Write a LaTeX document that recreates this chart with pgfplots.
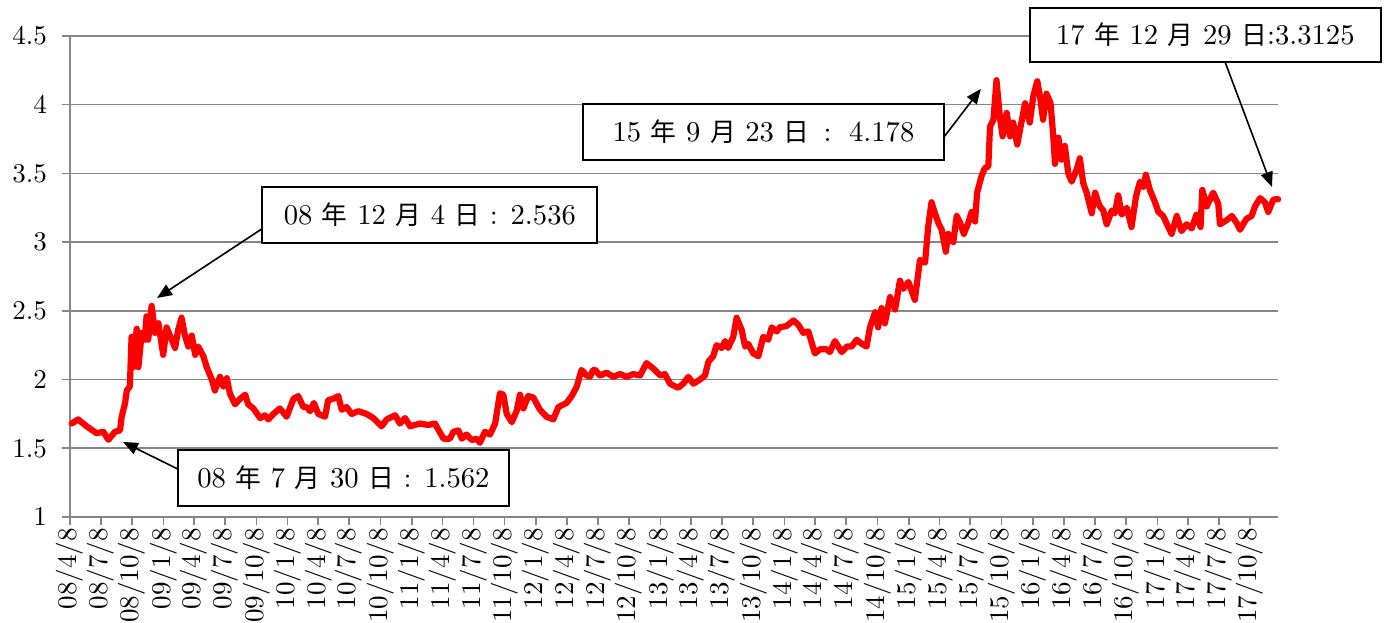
\documentclass[border=0pt]{standalone}
\usepackage{fontspec}
\usepackage{pgfplots}
\pgfplotsset{compat=1.18}
\usetikzlibrary{arrows.meta}
\newfontfamily\cjk[Scale=0.9]{Noto Sans CJK JP}
\newcommand{\J}[1]{{\cjk #1}}
\definecolor{gridgray}{RGB}{134,134,134}
\begin{document}
\begin{tikzpicture}
\begin{axis}[
  scale only axis,
  width=447pt, height=178pt,
  xmin=0, xmax=3552, ymin=1, ymax=4.5,
  clip=false,
  axis x line*=bottom, axis y line*=left,
  axis line style={gridgray, line width=0.6pt},
  ymajorgrids, grid style={gridgray, line width=0.6pt},
  tick style={gridgray, line width=0.6pt},
  tick align=outside, major tick length=3pt,
  xtick pos=bottom, ytick pos=left,
  ytick={1,1.5,2,2.5,3,3.5,4,4.5},
  xtick={0,91,183,275,365,456,548,640,730,821,913,1005,1095,1186,1278,1370,1461,1552,1644,1736,1826,1917,2009,2101,2191,2282,2374,2466,2556,2647,2739,2831,2922,3013,3105,3197,3287,3378,3470},
  xticklabels={08/4/8,08/7/8,08/10/8,09/1/8,09/4/8,09/7/8,09/10/8,10/1/8,10/4/8,10/7/8,10/10/8,11/1/8,11/4/8,11/7/8,11/10/8,12/1/8,12/4/8,12/7/8,12/10/8,13/1/8,13/4/8,13/7/8,13/10/8,14/1/8,14/4/8,14/7/8,14/10/8,15/1/8,15/4/8,15/7/8,15/10/8,16/1/8,16/4/8,16/7/8,16/10/8,17/1/8,17/4/8,17/7/8,17/10/8},
  xticklabel style={rotate=90, anchor=east, inner sep=1pt},
  yticklabel style={xshift=-2pt},
]
\addplot[color=red, line width=2.3pt, line join=round, line cap=round] coordinates {
(5,1.68)(24,1.71)(49,1.66)(78,1.61)(98,1.62)(113,1.562)(132,1.62)(147,1.63)(152,1.73)(162,1.83)
(167,1.92)(176,1.95)(181,2.31)(186,2.09)(196,2.37)(201,2.09)(211,2.34)(220,2.29)(225,2.46)(230,2.29)
(240,2.536)(250,2.34)(260,2.41)(274,2.18)(284,2.38)(299,2.29)(309,2.23)(318,2.36)(328,2.45)(338,2.32)
(348,2.24)(358,2.32)(368,2.18)(377,2.24)(392,2.17)(402,2.09)(417,2.00)(426,1.92)(441,2.02)(451,1.95)
(461,2.01)(470,1.90)(485,1.82)(500,1.86)(515,1.89)(524,1.82)(539,1.79)(559,1.72)(573,1.74)(583,1.71)
(598,1.75)(617,1.79)(637,1.73)(657,1.86)(671,1.88)(686,1.80)(696,1.80)(706,1.77)(717,1.83)(730,1.75)
(750,1.73)(759,1.85)(774,1.86)(789,1.88)(799,1.78)(813,1.80)(828,1.75)(848,1.77)(872,1.75)(892,1.72)
(916,1.66)(931,1.71)(956,1.74)(970,1.68)(985,1.72)(1000,1.66)(1029,1.68)(1053,1.67)(1073,1.68)(1098,1.57)
(1117,1.57)(1127,1.62)(1142,1.63)(1152,1.57)(1166,1.60)(1181,1.56)(1196,1.57)(1205,1.54)(1220,1.62)(1235,1.60)
(1250,1.68)(1264,1.90)(1274,1.89)(1284,1.75)(1299,1.69)(1313,1.77)(1323,1.89)(1333,1.79)(1347,1.88)(1362,1.87)
(1382,1.78)(1401,1.73)(1421,1.71)(1436,1.80)(1460,1.83)(1475,1.88)(1490,1.95)(1504,2.07)(1519,2.03)(1529,2.02)
(1538,2.07)(1544,2.07)(1558,2.03)(1578,2.05)(1597,2.02)(1617,2.04)(1637,2.02)(1656,2.04)(1676,2.03)(1695,2.12)
(1715,2.08)(1735,2.03)(1749,2.04)(1764,1.97)(1788,1.94)(1803,1.97)(1818,2.02)(1833,1.97)(1852,2.00)(1867,2.03)
(1877,2.13)(1891,2.17)(1901,2.25)(1916,2.23)(1926,2.28)(1935,2.23)(1950,2.31)(1960,2.45)(1975,2.36)(1985,2.24)
(1994,2.26)(2009,2.19)(2024,2.17)(2038,2.31)(2053,2.29)(2063,2.38)(2078,2.35)(2087,2.38)(2107,2.39)(2127,2.43)
(2141,2.40)(2156,2.34)(2171,2.35)(2190,2.19)(2205,2.22)(2225,2.22)(2234,2.20)(2249,2.28)(2269,2.20)(2284,2.24)
(2298,2.24)(2313,2.29)(2328,2.26)(2342,2.24)(2352,2.38)(2367,2.49)(2376,2.38)(2386,2.52)(2396,2.41)(2411,2.60)
(2426,2.51)(2440,2.72)(2450,2.66)(2465,2.71)(2484,2.58)(2499,2.87)(2514,2.85)(2523,3.11)(2533,3.29)(2543,3.21)
(2553,3.14)(2563,3.09)(2575,2.93)(2582,3.06)(2597,3.00)(2607,3.19)(2617,3.14)(2628,3.06)(2641,3.14)(2651,3.22)
(2661,3.15)(2667,3.36)(2680,3.48)(2690,3.54)(2700,3.55)(2705,3.84)(2715,3.89)(2724,4.178)(2734,3.91)(2742,3.77)
(2754,3.94)(2764,3.77)(2773,3.87)(2785,3.71)(2798,3.88)(2808,4.01)(2822,3.87)(2832,4.06)(2844,4.17)(2852,4.06)
(2861,3.89)(2871,4.08)(2883,4.01)(2891,3.77)(2896,3.57)(2906,3.76)(2915,3.60)(2925,3.70)(2935,3.50)(2945,3.44)
(2960,3.53)(2969,3.61)(2979,3.43)(2989,3.36)(3004,3.21)(3014,3.36)(3023,3.29)(3028,3.26)(3038,3.23)(3048,3.13)
(3063,3.23)(3072,3.21)(3082,3.34)(3092,3.20)(3107,3.25)(3121,3.11)(3134,3.33)(3146,3.44)(3156,3.40)(3163,3.49)
(3175,3.38)(3190,3.29)(3200,3.22)(3214,3.19)(3229,3.11)(3239,3.06)(3254,3.19)(3268,3.08)(3283,3.13)(3298,3.10)
(3312,3.20)(3324,3.11)(3329,3.38)(3342,3.26)(3361,3.36)(3376,3.28)(3381,3.13)(3401,3.16)(3416,3.19)(3430,3.14)
(3440,3.09)(3459,3.17)(3474,3.19)(3484,3.26)(3499,3.32)(3513,3.29)(3523,3.22)(3538,3.31)(3552,3.3125)
};
% annotations
\tikzset{ann/.style={draw=black, line width=0.7pt, fill=white, inner sep=0pt, minimum height=20.5pt, font=\fontsize{10.6}{12}\selectfont},
         arr/.style={black, line width=0.6pt, -{Triangle[length=5.5pt,width=4.5pt]}}}
\draw[arr] (axis cs:564,3.096) -- (axis cs:256,2.594);
\node[ann, minimum width=124pt] at (axis cs:1058,3.198) {08 \J{年} 12 \J{月} 4 \J{日} : 2.536};
\draw[arr] (axis cs:317,1.349) -- (axis cs:156,1.546);
\node[ann, minimum width=122.5pt] at (axis cs:804,1.284) {08 \J{年} 7 \J{月} 30 \J{日} : 1.562};
\draw[arr] (axis cs:2570,3.766) -- (axis cs:2678,4.115);
\node[ann, minimum width=133.6pt] at (axis cs:2039,3.802) {15 \J{年} 9 \J{月} 23 \J{日} \,:\, 4.178};
\draw[arr] (axis cs:3396,4.311) -- (axis cs:3534,3.402);
\node[ann, minimum width=130pt, minimum height=20pt] at (axis cs:3338,4.508) {17 \J{年} 12 \J{月} 29 \J{日}:3.3125};
\end{axis}
\pgfresetboundingbox
\path[use as bounding box] (-25.9pt,-38.85pt) rectangle (487.3pt,191.3pt);
\end{tikzpicture}
\end{document}
